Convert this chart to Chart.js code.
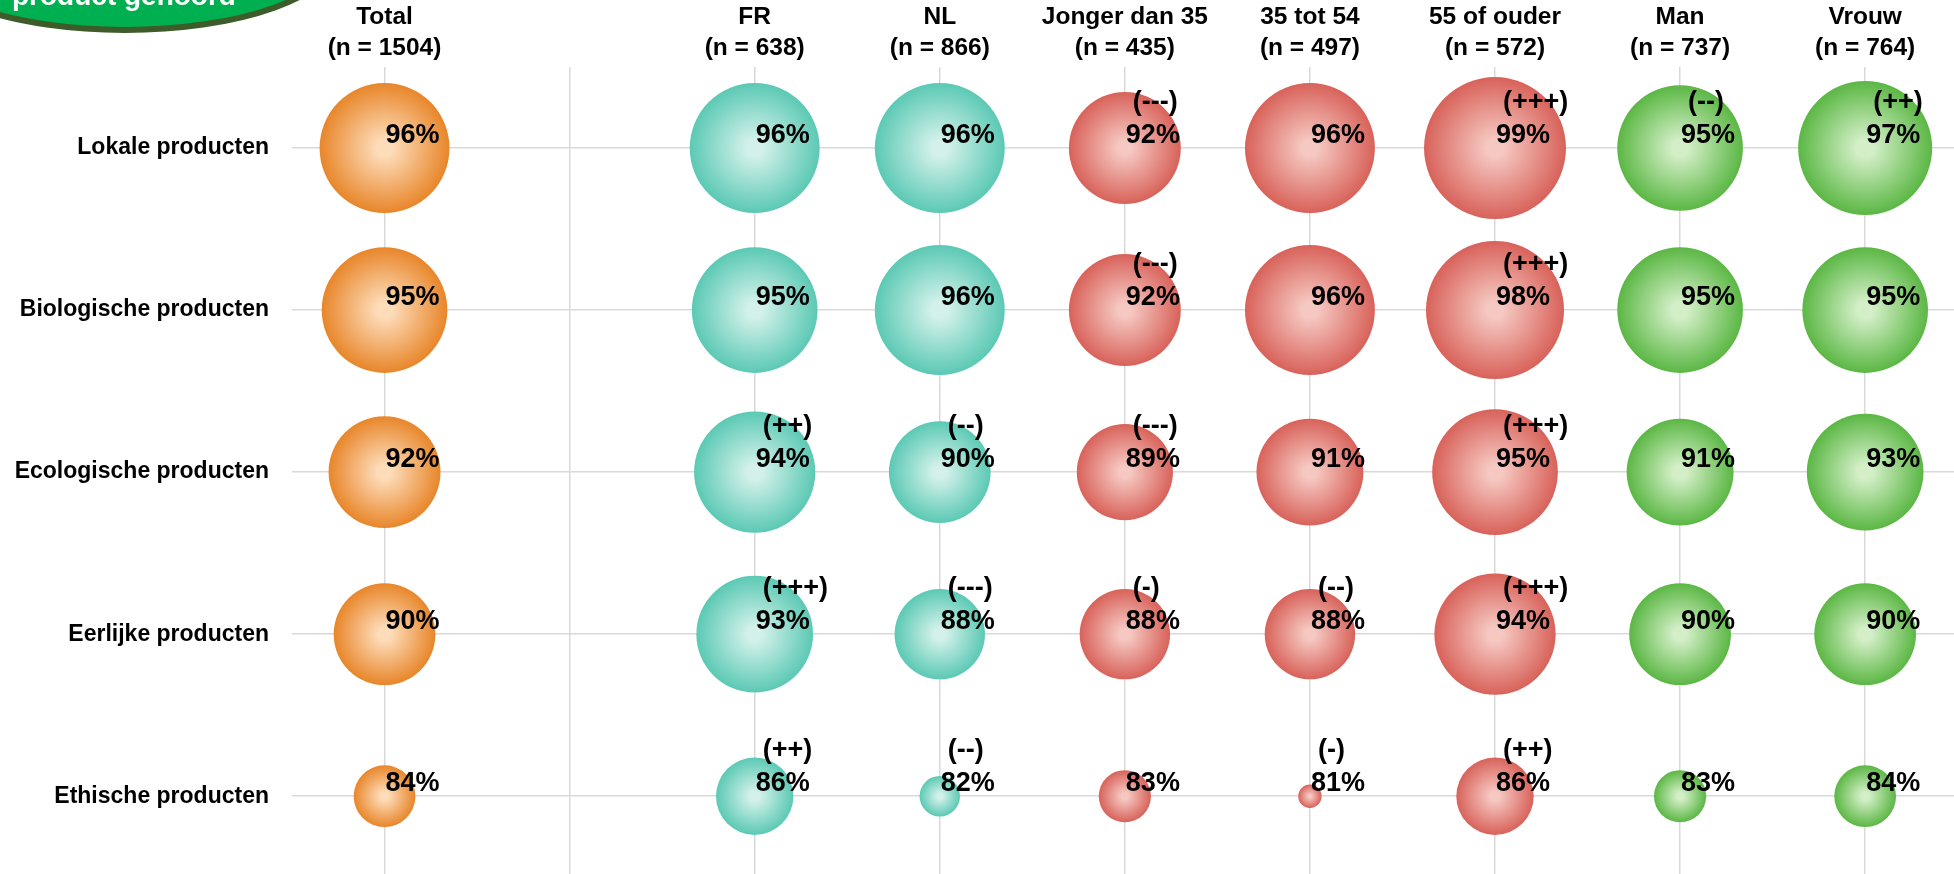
<!DOCTYPE html>
<html lang="nl">
<head>
<meta charset="utf-8">
<title>Productkenmerken per doelgroep</title>
<script src="https://cdn.jsdelivr.net/npm/chart.js@4.4.1/dist/chart.umd.min.js"></script>
<style>
  html, body { margin: 0; padding: 0; background: #fff; overflow: hidden; }
  #bubbleChart { display: block; }
</style>
</head>
<body>
<canvas id="bubbleChart" width="1954" height="874"></canvas>
<script>
// Kolommen bovenaan (index 1 is een lege scheidingskolom)
const columns = ['Total', '', 'FR', 'NL', 'Jonger dan 35', '35 tot 54', '55 of ouder', 'Man', 'Vrouw'];
const sampleSizes = [1504, null, 638, 866, 435, 497, 572, 737, 764];
const rowLabels = ['Lokale producten', 'Biologische producten', 'Ecologische producten', 'Eerlijke producten', 'Ethische producten'];

// Percentages per kolom, in de volgorde van rowLabels
const totalValues = [96, 95, 92, 90, 84];
const frValues = [96, 95, 94, 93, 86];
const nlValues = [96, 96, 90, 88, 82];
const youngValues = [92, 92, 89, 88, 83];
const middleValues = [96, 96, 91, 88, 81];
const olderValues = [99, 98, 95, 94, 86];
const manValues = [95, 95, 91, 90, 83];
const womanValues = [97, 95, 93, 90, 84];

// Significantie t.o.v. het totaal
const frSig = ['', '', '(++)', '(+++)', '(++)'];
const nlSig = ['', '', '(--)', '(---)', '(--)'];
const youngSig = ['(---)', '(---)', '(---)', '(-)', ''];
const middleSig = ['', '', '', '(--)', '(-)'];
const olderSig = ['(+++)', '(+++)', '(+++)', '(+++)', '(++)'];
const manSig = ['(--)', '', '', '', ''];
const womanSig = ['(++)', '', '', '', ''];

const FONT = '"Liberation Sans", Arial, sans-serif';

// bubble area grows with the percentage above ~80%
function bubbleRadius(v) {
    return 16.5 * Math.sqrt(Math.max(v - 80.5, 0.05));
}

function points(col, values, sig) {
    return values.map((v, i) => ({
        x: col,
        y: i,
        r: bubbleRadius(v),
        v: v,
        sig: sig ? sig[i] : ''
    }));
}

// radial gradient: light centre, saturated rim
function sphere(light, edge) {
    return ctx => {
        const chart = ctx.chart;
        const p = ctx.raw;
        if (!p || !chart.chartArea) return edge;
        const x = chart.scales.x.getPixelForValue(p.x);
        const y = chart.scales.y.getPixelForValue(p.y);
        const g = chart.ctx.createRadialGradient(x, y, 0, x, y, p.r);
        g.addColorStop(0, light);
        g.addColorStop(0.12, light);
        g.addColorStop(1, edge);
        return g;
    };
}

// percentage + significance text next to each bubble
const valueLabels = {
    id: 'valueLabels',
    afterDatasetsDraw(chart) {
        const c = chart.ctx;
        c.save();
        c.fillStyle = '#000';
        c.textAlign = 'left';
        c.textBaseline = 'alphabetic';
        c.font = 'bold 27px ' + FONT;
        chart.data.datasets.forEach((ds, di) => {
            chart.getDatasetMeta(di).data.forEach((el, i) => {
                const p = ds.data[i];
                c.fillText(p.v + '%', el.x + 1, el.y - 5);
                if (p.sig) c.fillText(p.sig, el.x + 8, el.y - 38);
            });
        });
        c.restore();
    }
};

// green title badge in the top-left corner
const badge = {
    id: 'badge',
    afterDraw(chart) {
        const c = chart.ctx;
        c.save();
        c.beginPath();
        c.ellipse(125, -47, 212, 77, 0, 0, Math.PI * 2);
        c.fillStyle = '#00b050';
        c.fill();
        c.lineWidth = 6;
        c.strokeStyle = '#3d5c2a';
        c.stroke();
        c.fillStyle = '#fff';
        c.font = 'bold 28px ' + FONT;
        c.textBaseline = 'alphabetic';
        c.fillText('product gehoord', 12, 5);
        c.restore();
    }
};

Chart.defaults.font.family = FONT;

const ctx = document.getElementById('bubbleChart').getContext('2d');
new Chart(ctx, {
    type: 'bubble',
    data: {
        datasets: [
            {
                label: 'Total',
                data: points(0, totalValues, null),
                backgroundColor: sphere('#fddcb9', '#e8862a'),
                borderWidth: 0
            },
            {
                label: 'Taal',
                data: points(2, frValues, frSig).concat(points(3, nlValues, nlSig)),
                backgroundColor: sphere('#d3f1ea', '#5bc9b4'),
                borderWidth: 0
            },
            {
                label: 'Leeftijd',
                data: points(4, youngValues, youngSig)
                    .concat(points(5, middleValues, middleSig))
                    .concat(points(6, olderValues, olderSig)),
                backgroundColor: sphere('#f5c8c1', '#d8625a'),
                borderWidth: 0
            },
            {
                label: 'Geslacht',
                data: points(7, manValues, manSig).concat(points(8, womanValues, womanSig)),
                backgroundColor: sphere('#d4efc8', '#5bb744'),
                borderWidth: 0
            }
        ]
    },
    options: {
        responsive: false,
        animation: false,
        events: [],
        layout: { padding: 0, autoPadding: false },
        plugins: {
            legend: { display: false },
            tooltip: { enabled: false }
        },
        scales: {
            x: {
                type: 'linear',
                position: 'top',
                min: -0.5,
                max: 8.48,
                afterFit: s => {
                    s.height = 67;
                    s.paddingLeft = 0;
                    s.paddingRight = 0;
                },
                afterBuildTicks: s => { s.ticks = columns.map((_, i) => ({ value: i })); },
                grid: { color: '#d9d9d9', lineWidth: 1.5, drawTicks: false },
                border: { display: false },
                ticks: {
                    autoSkip: false,
                    maxRotation: 0,
                    padding: 3,
                    color: '#000',
                    font: { size: 24.5, weight: 'bold', lineHeight: 1.27 },
                    callback: v => columns[v] ? [columns[v], '(n = ' + sampleSizes[v] + ')'] : ''
                }
            },
            y: {
                type: 'linear',
                reverse: true,
                min: -0.5,
                max: 4.48,
                afterFit: s => {
                    s.width = 292;
                    s.paddingTop = 0;
                    s.paddingBottom = 0;
                },
                afterBuildTicks: s => { s.ticks = rowLabels.map((_, i) => ({ value: i })); },
                grid: { color: '#d9d9d9', lineWidth: 1.5, drawTicks: false },
                border: { display: false },
                ticks: {
                    autoSkip: false,
                    padding: 23,
                    color: '#000',
                    font: { size: 23, weight: 'bold' },
                    callback: v => rowLabels[v]
                }
            }
        }
    },
    plugins: [valueLabels, badge]
});
</script>
</body>
</html>
